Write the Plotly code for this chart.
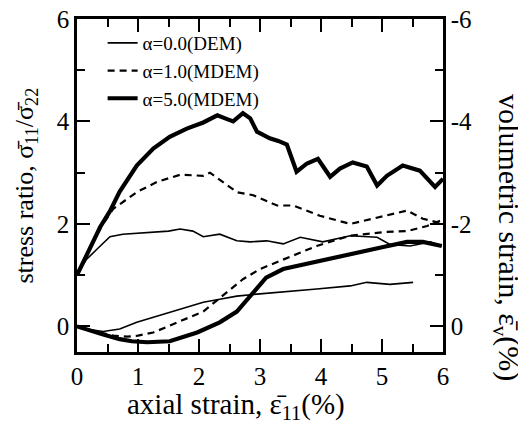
import plotly.graph_objects as go

# ---- data ----
# stress ratio (left axis)
sr0_x = [0, 0.15, 0.33, 0.54, 0.75, 0.98, 1.31, 1.5, 1.69, 1.9, 2.07, 2.34, 2.62, 2.84, 3.11, 3.38, 3.66, 4.03, 4.48, 4.92, 5.13, 5.46, 5.79, 5.98]
sr0_y = [1.02, 1.3, 1.51, 1.75, 1.8, 1.82, 1.84, 1.86, 1.9, 1.86, 1.75, 1.8, 1.67, 1.65, 1.67, 1.61, 1.74, 1.65, 1.77, 1.74, 1.6, 1.57, 1.65, 1.57]

sr1_x = [0, 0.2, 0.4, 0.59, 0.98, 1.31, 1.69, 2.07, 2.18, 2.46, 2.62, 2.89, 3.28, 3.54, 3.98, 4.48, 4.85, 5.02, 5.41, 5.67, 5.95]
sr1_y = [1.0, 1.5, 1.95, 2.29, 2.62, 2.82, 2.96, 2.94, 3.0, 2.75, 2.62, 2.56, 2.36, 2.36, 2.16, 2.0, 2.1, 2.14, 2.26, 2.1, 2.02]

sr5_x = [0, 0.2, 0.38, 0.54, 0.7, 0.98, 1.25, 1.52, 1.8, 2.07, 2.3, 2.45, 2.56, 2.72, 2.84, 2.95, 3.05, 3.16, 3.3, 3.44, 3.6, 3.77, 3.95, 4.15, 4.31, 4.52, 4.75, 4.92, 5.08, 5.34, 5.62, 5.87, 6.0]
sr5_y = [1.0, 1.5, 1.94, 2.25, 2.63, 3.14, 3.47, 3.7, 3.86, 3.98, 4.12, 4.05, 4.0, 4.16, 4.06, 3.8, 3.73, 3.67, 3.62, 3.55, 3.02, 3.18, 3.27, 2.92, 3.08, 3.2, 3.12, 2.75, 2.94, 3.14, 3.04, 2.72, 2.88]

# volumetric strain (right axis)
ev0_x = [0, 0.2, 0.43, 0.7, 0.98, 1.25, 1.52, 1.8, 2.07, 2.34, 2.62, 2.95, 3.38, 3.93, 4.48, 4.75, 5.13, 5.51]
ev0_y = [0, 0.06, 0.1, 0.05, -0.08, -0.18, -0.27, -0.37, -0.47, -0.53, -0.59, -0.63, -0.67, -0.73, -0.79, -0.86, -0.82, -0.86]

ev1_x = [0, 0.3, 0.6, 0.82, 1.0, 1.25, 1.69, 2.07, 2.46, 2.72, 3.0, 3.38, 3.93, 4.48, 5.02, 5.41, 5.74, 5.95]
ev1_y = [0, 0.1, 0.18, 0.2, 0.18, 0.12, -0.1, -0.29, -0.67, -0.92, -1.12, -1.31, -1.57, -1.77, -1.84, -1.86, -1.96, -2.06]

ev5_x = [0, 0.2, 0.43, 0.7, 0.9, 1.15, 1.52, 1.97, 2.34, 2.62, 2.84, 3.0, 3.1, 3.38, 3.93, 4.48, 5.02, 5.41, 5.67, 5.98]
ev5_y = [0, 0.08, 0.16, 0.25, 0.29, 0.31, 0.29, 0.12, -0.08, -0.29, -0.59, -0.8, -0.95, -1.12, -1.27, -1.41, -1.55, -1.65, -1.65, -1.57]

names = ["α=0.0(DEM)", "α=1.0(MDEM)", "α=5.0(MDEM)"]
x_ticks = [0, 1, 2, 3, 4, 5, 6]
left_ticks = [0, 2, 4, 6]
right_ticks = [-6, -4, -2, 0]
right_ticktext = ["-6", "-4", "-2", "0"]
x_title = "axial strain, ε̄<sub>11</sub>(%)"
y_title = "stress ratio, σ̄<sub>11</sub>/σ̄<sub>22</sub>"
y2_title = "volumetric strain, ε̄<sub>v</sub>(%)"

styles = [dict(color="black", width=1.6, dash="solid"),
          dict(color="black", width=2.2, dash="7px,5px"),
          dict(color="black", width=4.2, dash="solid")]

fig = go.Figure()
for i, (sx, sy) in enumerate([(sr0_x, sr0_y), (sr1_x, sr1_y), (sr5_x, sr5_y)]):
    fig.add_trace(go.Scatter(x=sx, y=sy, mode="lines", name=names[i], line=styles[i],
                             legendgroup=names[i], showlegend=True, yaxis="y"))
for i, (vx, vy) in enumerate([(ev0_x, ev0_y), (ev1_x, ev1_y), (ev5_x, ev5_y)]):
    fig.add_trace(go.Scatter(x=vx, y=vy, mode="lines", name=names[i], line=styles[i],
                             legendgroup=names[i], showlegend=False, yaxis="y2"))

FONT = "Liberation Serif"
axis_common = dict(showline=True, linecolor="black", linewidth=2.5, showgrid=False,
                   zeroline=False, ticks="inside", tickcolor="black", tickwidth=2,
                   ticklen=13, automargin=False, ticklabeloverflow="allow",
                   tickfont=dict(family=FONT, size=25, color="black"))

fig.update_layout(
    width=518, height=416,
    margin=dict(l=69, r=83, t=11, b=72),
    paper_bgcolor="white", plot_bgcolor="white",
    font=dict(family=FONT, color="black"),
    showlegend=True,
    legend=dict(x=0.07, y=0.985, xanchor="left", yanchor="top",
                bgcolor="rgba(0,0,0,0)", font=dict(family=FONT, size=19, color="black"),
                tracegroupgap=0, itemwidth=30),
    xaxis=dict(range=[0, 6], tickvals=x_ticks, mirror="ticks",
               minor=dict(dtick=0.5, ticks="inside", ticklen=8, tickwidth=2, tickcolor="black"),
               **axis_common),
    yaxis=dict(range=[-0.5, 6], tickvals=left_ticks,
               minor=dict(tickvals=[1, 3, 5], ticks="inside", ticklen=8, tickwidth=2, tickcolor="black"),
               **axis_common),
    yaxis2=dict(range=[0.5, -6], overlaying="y", side="right", tickvals=right_ticks, ticktext=right_ticktext,
                minor=dict(tickvals=[-5, -3, -1], ticks="inside", ticklen=8, tickwidth=2, tickcolor="black"),
                **axis_common),
    annotations=[
        dict(text=x_title, xref="paper", yref="paper", x=0.434, y=-0.163, xanchor="center", yanchor="middle",
             showarrow=False, font=dict(family=FONT, size=29, color="black")),
        dict(text=y_title, xref="paper", yref="paper", x=-0.14, y=0.499, xanchor="center", yanchor="middle",
             textangle=-90, showarrow=False, font=dict(family=FONT, size=26, color="black")),
        dict(text=y2_title, xref="paper", yref="paper", x=1.175, y=0.345, xanchor="center", yanchor="middle",
             textangle=90, showarrow=False, font=dict(family=FONT, size=30, color="black")),
    ],
)

fig.write_html("out.html")
